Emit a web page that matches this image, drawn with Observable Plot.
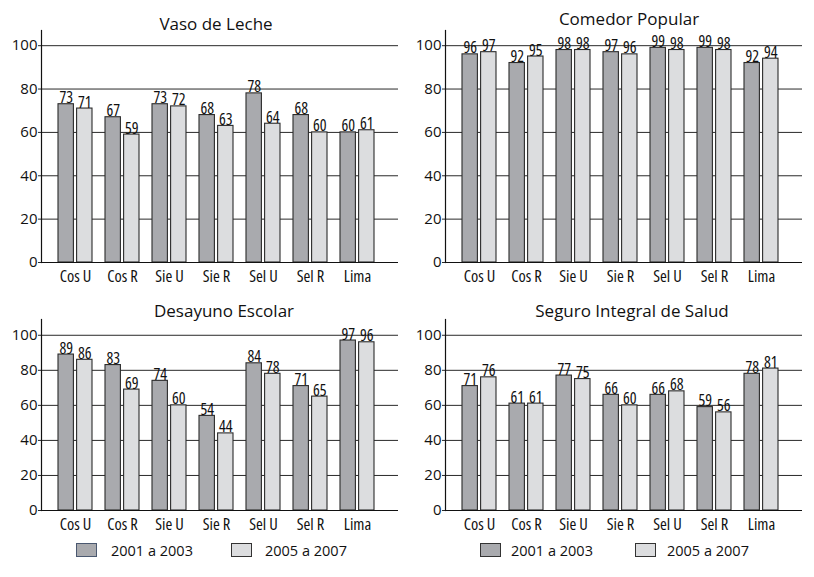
<!DOCTYPE html>
<html><head><meta charset="utf-8">
<script src="https://cdn.jsdelivr.net/npm/d3@7"></script>
<script src="https://cdn.jsdelivr.net/npm/@observablehq/plot@0.6"></script>
<style>
body{margin:0;background:#fff;font-family:"Open Sans",sans-serif;}
#root{position:relative;width:814px;height:577px;overflow:hidden;}
.panel{position:absolute;}
.title{position:absolute;font-size:17px;color:#111;transform:translate(-50%,-50%);white-space:nowrap;}
.sw{position:absolute;width:21px;height:14px;border:1px solid #333;box-sizing:border-box;}
.lt{position:absolute;font-size:14.5px;color:#111;transform:translateY(-50%);white-space:nowrap;}
</style></head><body><div id="root"></div>
<script>
const categories = ["Cos U","Cos R","Sie U","Sie R","Sel U","Sel R","Lima"];
const series = ["2001 a 2003","2005 a 2007"];
const yTicks = [0,20,40,60,80,100];
const titles = ["Vaso de Leche","Comedor Popular","Desayuno Escolar","Seguro Integral de Salud"];
const vasoDark = [73,67,73,68,78,68,60];
const vasoLight = [71,59,72,63,64,60,61];
const comedorDark = [96,92,98,97,99,99,92];
const comedorLight = [97,95,98,96,98,98,94];
const desayunoDark = [89,83,74,54,84,71,97];
const desayunoLight = [86,69,60,44,78,65,96];
const sisDark = [71,61,77,66,66,59,78];
const sisLight = [76,61,75,60,68,56,81];

const DARK = "#a9aaae", LIGHT = "#dcdddf", EDGE = "#2b2b2b";

const panels = [
  {title: titles[0], dark: vasoDark, light: vasoLight, left: 0, top: 0, height: 300, mt: 30, mb: 38, yMax: 107, tx: 216, ty: 23},
  {title: titles[1], dark: comedorDark, light: comedorLight, left: 404, top: 0, height: 300, mt: 30, mb: 38, yMax: 107, tx: 629, ty: 18},
  {title: titles[2], dark: desayunoDark, light: desayunoLight, left: 0, top: 280, height: 260, mt: 39, mb: 30, yMax: 109, tx: 224, ty: 310},
  {title: titles[3], dark: sisDark, light: sisLight, left: 404, top: 280, height: 260, mt: 39, mb: 30, yMax: 109, tx: 632, ty: 310}
];

const root = document.getElementById("root");
const half = 34.2 / 2 + 1.5;

for (const p of panels) {
  const rows = [];
  categories.forEach((c, i) => {
    rows.push({cat: c, s: series[0], v: p.dark[i]});
    rows.push({cat: c, s: series[1], v: p.light[i]});
  });
  const d0 = rows.filter(d => d.s === series[0]);
  const d1 = rows.filter(d => d.s === series[1]);
  const chart = Plot.plot({
    width: 407, height: p.height,
    marginLeft: 41, marginRight: 9, marginTop: p.mt, marginBottom: p.mb,
    style: {fontFamily: "Open Sans, sans-serif", fontSize: "15px", background: "transparent", color: "#111", overflow: "visible"},
    x: {domain: categories, paddingInner: 0.28, paddingOuter: 0.398, align: 0.42, label: null},
    y: {domain: [0, p.yMax], label: null},
    marks: [
      Plot.ruleY(yTicks, {stroke: "#2a2a2a", strokeWidth: 1}),
      Plot.barY(d0, {x: "cat", y: "v", fill: DARK, stroke: EDGE, strokeWidth: 1.1, insetRight: half}),
      Plot.barY(d1, {x: "cat", y: "v", fill: LIGHT, stroke: EDGE, strokeWidth: 1.1, insetLeft: half}),
      Plot.text(d0, {x: "cat", y: "v", text: d => String(d.v), dx: -9.3, dy: -1, lineAnchor: "bottom", fontSize: 16, fill: "#111", className: "cond"}),
      Plot.text(d1, {x: "cat", y: "v", text: d => String(d.v), dx: 9.3, dy: -1, lineAnchor: "bottom", fontSize: 16, fill: "#111", className: "cond"}),
      Plot.axisY({ticks: yTicks, tickSize: 3, tickPadding: 1, fontSize: 15, stroke: "#2a2a2a", label: null}),
      Plot.axisX({tickSize: 0, tickPadding: 8, fontSize: 16.5, label: null, className: "cond"}),
      Plot.ruleY([0], {stroke: "#111", strokeWidth: 1.2}),
      Plot.frame({anchor: "left", stroke: "#111", strokeWidth: 1.2})
    ]
  });
  chart.querySelectorAll("[class*='cond']").forEach(g => g.style.fontStretch = "75%");
  const wrap = document.createElement("div");
  wrap.className = "panel";
  wrap.style.left = p.left + "px";
  wrap.style.top = p.top + "px";
  wrap.appendChild(chart);
  root.appendChild(wrap);
  const t = document.createElement("div");
  t.className = "title";
  t.textContent = p.title;
  t.style.left = p.tx + "px";
  t.style.top = p.ty + "px";
  root.appendChild(t);
}

const legends = [
  {items: [{x: 76, tx: 111, fill: DARK, edge: "#4a5870"}, {x: 231, tx: 265, fill: LIGHT, edge: "#333"}]},
  {items: [{x: 480, tx: 511, fill: DARK, edge: "#333"}, {x: 635, tx: 667, fill: LIGHT, edge: "#333"}]}
];
for (const lg of legends) {
  lg.items.forEach((it, i) => {
    const s = document.createElement("div");
    s.className = "sw";
    s.style.left = it.x + "px"; s.style.top = "543px";
    s.style.background = it.fill; s.style.borderColor = it.edge;
    root.appendChild(s);
    const t = document.createElement("div");
    t.className = "lt";
    t.textContent = series[i];
    t.style.left = it.tx + "px"; t.style.top = "550px";
    root.appendChild(t);
  });
}
</script></body></html>
